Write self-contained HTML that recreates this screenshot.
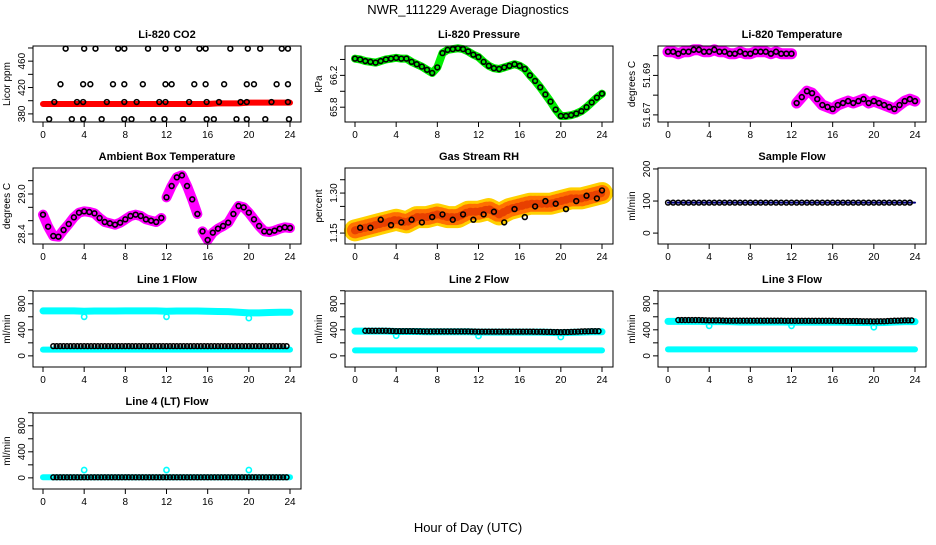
<!DOCTYPE html>
<html><head><meta charset="utf-8"><style>
html,body{margin:0;padding:0;background:#fff;}
svg text{font-family:"Liberation Sans",sans-serif;}
</style></head><body>
<svg id="c" width="936" height="540" xmlns="http://www.w3.org/2000/svg">
<text x="468" y="14" text-anchor="middle" font-size="13">NWR_111229  Average Diagnostics</text>
<text x="468" y="532" text-anchor="middle" font-size="13">Hour of Day (UTC)</text>
</svg>
<script>
// ---------- data ----------
const xTicks = [0,4,8,12,16,20,24];
const halfHours = [0,0.5,1,1.5,2,2.5,3,3.5,4,4.5,5,5.5,6,6.5,7,7.5,8,8.5,9,9.5,10,10.5,11,11.5,12,12.5,13,13.5,14,14.5,15,15.5,16,16.5,17,17.5,18,18.5,19,19.5,20,20.5,21,21.5,22,22.5,23,23.5,24];
const hours = [0,1,2,3,4,5,6,7,8,9,10,11,12,13,14,15,16,17,18,19,20,21,22,23,24];

const co2Band = [395,395,395,395,395,395,395,395,395,395,395,395,395,395,395,395,395,396,396,396,397,397,397,397,397];
const co2HiHours = [2.2,4.0,5.1,7.3,7.9,10.2,11.9,13.1,15.2,15.8,18.2,19.9,21.1,23.2,23.8];
const co2HiValue = 479;
const co2MidHours = [1.7,3.9,4.6,6.8,7.9,9.7,11.9,12.5,14.7,15.8,17.6,19.8,20.5,22.7,23.8];
const co2MidValue = 425;
const co2LowHours = [1.1,3.3,3.9,6.2,7.9,9.1,11.3,11.9,14.2,15.9,17.1,19.2,19.8,22.2,23.8];
const co2LowValue = 398;
const co2BotHours = [0.6,2.8,3.9,5.7,7.9,8.6,10.7,11.8,13.6,15.9,16.6,18.8,19.8,21.6,23.9];
const co2BotValue = 372;

const pressure = [66.41,66.40,66.38,66.37,66.36,66.38,66.40,66.41,66.42,66.41,66.41,66.37,66.34,66.31,66.27,66.23,66.30,66.48,66.52,66.53,66.54,66.53,66.50,66.46,66.43,66.37,66.32,66.29,66.28,66.30,66.32,66.34,66.32,66.28,66.20,66.13,66.05,65.96,65.87,65.77,65.69,65.69,65.70,65.72,65.75,65.80,65.86,65.92,65.97];

const licorTemp = [51.702,51.702,51.701,51.702,51.702,51.703,51.703,51.702,51.702,51.703,51.702,51.702,51.701,51.701,51.702,51.701,51.701,51.702,51.702,51.702,51.701,51.702,51.701,51.701,51.701,51.676,51.679,51.682,51.681,51.678,51.675,51.674,51.673,51.675,51.676,51.677,51.676,51.677,51.678,51.676,51.677,51.676,51.675,51.674,51.673,51.675,51.677,51.678,51.677];

const ambient = [28.69,28.51,28.37,28.36,28.46,28.55,28.65,28.72,28.74,28.73,28.71,28.64,28.58,28.56,28.54,28.57,28.62,28.67,28.69,28.67,28.62,28.60,28.58,28.64,28.95,29.12,29.25,29.28,29.12,28.92,28.70,28.44,28.31,28.42,28.48,28.52,28.57,28.70,28.82,28.80,28.72,28.62,28.52,28.44,28.43,28.45,28.48,28.50,28.49];

const rh = [1.16,1.17,1.18,1.19,1.20,1.19,1.21,1.21,1.22,1.21,1.21,1.23,1.23,1.24,1.22,1.24,1.25,1.26,1.26,1.26,1.27,1.28,1.28,1.29,1.30];
const rhObs = [1.17,1.17,1.20,1.18,1.19,1.20,1.19,1.21,1.22,1.20,1.22,1.20,1.22,1.23,1.19,1.24,1.21,1.25,1.27,1.26,1.24,1.27,1.29,1.28,1.31];

const sampleFlow = [95,95,95,95,95,95,95,95,95,95,95,95,95,95,95,95,95,95,95,95,95,95,95,95,95];

const line1Hi = [690,690,690,690,685,688,688,688,690,690,690,690,685,688,688,688,685,682,680,670,660,660,665,670,670];
const line1Lo = [95,95,95,95,95,95,95,95,95,95,95,95,95,95,95,95,95,95,95,95,95,95,95,95,95];
const line1Obs = [150,150,150,150,150,150,150,150,150,150,150,150,150,150,150,150,150,150,150,150,150,150,150,150,150];
const line2Hi = [380,380,380,380,375,375,375,370,370,370,370,370,365,365,365,365,365,365,365,360,355,360,365,370,370];
const line2Lo = [85,85,85,85,85,85,85,85,85,85,85,85,85,85,85,85,85,85,85,85,85,85,85,85,85];
const line2Obs = [385,385,385,385,380,380,378,375,375,375,375,375,372,372,372,372,372,372,370,368,365,368,375,380,380];
const line3Hi = [530,530,530,530,525,525,525,520,520,520,520,520,518,518,518,518,518,518,515,512,510,512,520,525,525];
const line3Lo = [100,100,100,100,100,100,100,100,100,100,100,100,100,100,100,100,100,100,100,100,100,100,100,100,100];
const line3Obs = [550,550,550,550,545,545,540,540,540,540,540,540,538,538,538,538,538,535,535,532,530,532,540,545,545];
const spikeHours = [4,12,20];
const line1Spike = [600,600,580];
const line2Spike = [310,305,290];
const line3Spike = [460,460,440];
const line4Spike = [120,120,120];
const line4 = [10,10,10,10,10,10,10,10,10,10,10,10,10,10,10,10,10,10,10,10,10,10,10,10,10];

// ---------- drawing ----------
const svg = document.getElementById('c');
const NS = 'http://www.w3.org/2000/svg';
function mk(tag, attrs, parent){
  const e = document.createElementNS(NS, tag);
  for (const k in attrs) e.setAttribute(k, attrs[k]);
  (parent||svg).appendChild(e);
  return e;
}
const colX = [33, 345, 658];
const rowY = [46, 168, 291, 413];
const BW = 268, BH = 76;

function panel(col, row, title, ylab, ymin, ymax, ticks, labels, name){
  const bx = colX[col], by = rowY[row];
  const g = mk('g', {});
  
  
  const P = {
    g: g,
    x: h => bx + 10 + h / 24 * 247,
    y: v => by + BH - (v - ymin) / (ymax - ymin) * BH,
    bx: bx, by: by
  };
  const t = mk('text', {x: bx + BW/2, y: by - 8, 'text-anchor': 'middle', 'font-size': 11, 'font-weight': 'bold'}, g);
  t.textContent = title;
  
  
  const yl = mk('text', {x: 0, y: 0, 'text-anchor': 'middle', 'font-size': 10, transform: 'translate(' + (bx-23) + ',' + (by+BH/2) + ') rotate(-90)'}, g);
  yl.textContent = ylab;
  
  
  ticks.forEach((v, i) => {
    const yy = P.y(v);
    mk('line', {x1: bx-5, x2: bx, y1: yy, y2: yy, stroke: '#000', 'stroke-width': 1}, g);
    if (labels[i]) {
      const tl = mk('text', {x: 0, y: 0, 'text-anchor': 'middle', 'font-size': 10, transform: 'translate(' + (bx-8) + ',' + yy + ') rotate(-90)'}, g);
      tl.textContent = labels[i];
      
      
    }
  });
  xTicks.forEach(h => {
    const xx = P.x(h);
    mk('line', {x1: xx, x2: xx, y1: by+BH, y2: by+BH+5, stroke: '#000', 'stroke-width': 1}, g);
    const tl = mk('text', {x: xx, y: by+BH+16, 'text-anchor': 'middle', 'font-size': 10}, g);
    tl.textContent = h;
    
    
  });
  P.frame = () => {
    const r = mk('rect', {x: bx, y: by, width: BW, height: BH, fill: 'none', stroke: '#000', 'stroke-width': 1}, g);
    
    
  };
  return P;
}
function band(P, xs, vals, color, w, name, dash){
  let segs = [[]];
  xs.forEach((h, i) => {
    const pt = [P.x(h), P.y(vals[i])];
    const cur = segs[segs.length-1];
    if (cur.length && Math.abs(cur[cur.length-1][1] - pt[1]) > 15) segs.push([]);
    segs[segs.length-1].push(pt);
  });
  segs.forEach(s => {
    const a = {points: s.map(p => p.join(',')).join(' '), fill: 'none', stroke: color, 'stroke-width': w, 'stroke-linecap': 'round', 'stroke-linejoin': 'round'};
    if (dash) a['stroke-dasharray'] = dash;
    const pl = mk('polyline', a, P.g);
    
    
  });
}
function dots(P, xs, vals, color, r, name, sw){
  xs.forEach((h, i) => {
    const v = Array.isArray(vals) ? vals[i] : vals;
    const c = mk('circle', {cx: P.x(h), cy: P.y(v), r: r, fill: 'none', stroke: color, 'stroke-width': sw || 1.6}, P.g);
    
    
  });
}
function denseDots(P, xs, vals, color, r, name, step){
  for (let k = 0; k < xs.length - 1; k++) {
    for (let s = 0; s < step; s++) {
      const f = s / step;
      const h = xs[k] + (xs[k+1]-xs[k]) * f;
      const v = vals[k] + (vals[k+1]-vals[k]) * f;
      const c = mk('circle', {cx: P.x(h), cy: P.y(v), r: r, fill: 'none', stroke: color, 'stroke-width': 1.5}, P.g);
      
      
    }
  }
}

// CO2
let P = panel(0,0,'Li-820 CO2','Licor ppm',367.7,483,[380,400,420,440,460,480],['380','','420','','460',''],'co2');
band(P, hours, co2Band, '#ff0000', 6, 'co2-band');
dots(P, co2HiHours, co2HiValue, '#000', 2.4, 'co2-point');
dots(P, co2MidHours, co2MidValue, '#000', 2.4, 'co2-point');
dots(P, co2LowHours, co2LowValue, '#000', 2.4, 'co2-point');
dots(P, co2BotHours, co2BotValue, '#000', 2.4, 'co2-point');
P.frame();

// Pressure
P = panel(1,0,'Li-820 Pressure','kPa',65.614,66.569,[65.8,66.0,66.2,66.4],['65.8','','66.2',''],'pressure');
band(P, halfHours, pressure, '#00ee00', 8, 'pressure-band');
dots(P, halfHours, pressure, '#000', 2.4, 'pressure-point');
P.frame();

// Li-820 temperature
P = panel(2,0,'Li-820 Temperature','degrees C',51.6664,51.7049,[51.67,51.68,51.69,51.70],['51.67','','51.69',''],'licor-temp');
band(P, halfHours, licorTemp, '#ff00ff', 11, 'licor-temp-band');
dots(P, halfHours, licorTemp, '#000', 2.4, 'licor-temp-point');
P.frame();

// Ambient
P = panel(0,1,'Ambient Box Temperature','degrees C',28.25,29.39,[28.4,28.6,28.8,29.0,29.2],['28.4','','','29.0',''],'ambient');
band(P, halfHours, ambient, '#ff00ff', 10, 'ambient-band');
dots(P, halfHours, ambient, '#000', 2.4, 'ambient-point');
P.frame();

// RH
P = panel(1,1,'Gas Stream RH','percent',1.109,1.394,[1.15,1.20,1.25,1.30,1.35],['1.15','','','1.30',''],'rh');
band(P, hours, rh, '#ffd000', 22, 'rh-band');
band(P, hours, rh, '#ff7000', 16, 'rh-band-texture', '1,3');
band(P, hours, rh, '#e84000', 8, 'rh-band-core', '1,4');
dots(P, hours.map(h => Math.min(24, h + 0.5)), rhObs, '#000', 2.4, 'rh-point');
P.frame();

// Sample flow
P = panel(2,1,'Sample Flow','ml/min',-34,203,[0,100,200],['0','100','200'],'sample-flow');
band(P, hours, sampleFlow, '#000080', 2, 'sample-flow-line');
denseDots(P, hours, sampleFlow, '#000', 2.4, 'sample-flow-point', 2);
P.frame();

const flowTicks = [0,200,400,600,800,1000];
const flowLabels = ['0','','400','','800',''];
function flowPanel(col,row,title,name,hi,lo,obs,spk){
  const Q = panel(col,row,title,'ml/min',-171,996,flowTicks,flowLabels,name);
  if (hi) band(Q, hours, hi, '#00ffff', 7, name + '-cyan-band');
  band(Q, hours, lo, '#00ffff', 6, name + '-cyan-low-band');
  dots(Q, spikeHours, spk, '#00ffff', 2.6, name + '-cyan-spike');
  denseDots(Q, hours.slice(1), obs.slice(1), '#000', 2.4, name + '-point', 3);
  Q.frame();
}
flowPanel(0,2,'Line 1 Flow','line1-flow',line1Hi,line1Lo,line1Obs,line1Spike);
flowPanel(1,2,'Line 2 Flow','line2-flow',line2Hi,line2Lo,line2Obs,line2Spike);
flowPanel(2,2,'Line 3 Flow','line3-flow',line3Hi,line3Lo,line3Obs,line3Spike);
flowPanel(0,3,'Line 4 (LT) Flow','line4-flow',null,line4,line4,line4Spike);
</script>
</body></html>
